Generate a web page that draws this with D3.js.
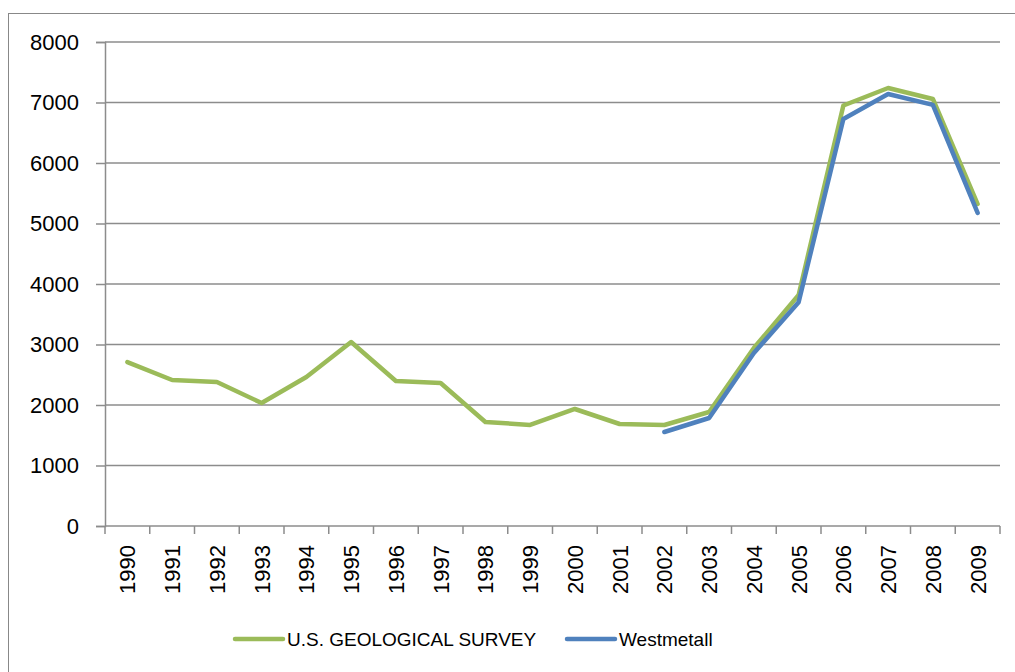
<!doctype html>
<html>
<head>
<meta charset="utf-8">
<script src="https://d3js.org/d3.v7.min.js"></script>
<style>
  body { margin: 0; background: #fff; }
  text { font-family: "Liberation Sans", Arial, sans-serif; fill: #000; }
</style>
</head>
<body>
<script>
// data
var years = ["1990","1991","1992","1993","1994","1995","1996","1997","1998","1999",
             "2000","2001","2002","2003","2004","2005","2006","2007","2008","2009"];
var usgs = [2710,2413,2380,2033,2463,3041,2397,2364,1720,1670,
            1934,1686,1670,1884,2942,3818,6950,7240,7058,5322];
var westmetall = [null,null,null,null,null,null,null,null,null,null,
                  null,null,1554,1785,2860,3700,6727,7140,6960,5174];
var yTicks = [0,1000,2000,3000,4000,5000,6000,7000,8000];
var seriesNames = ["U.S. GEOLOGICAL SURVEY","Westmetall"];
var seriesColors = ["#9BBB59","#4F81BD"];

var width = 1015, height = 672;
var plotL = 105, plotR = 1000, plotT = 42, plotB = 526;

var svg = d3.select("body").append("svg")
  .attr("width", width).attr("height", height);

// chart frame
svg.append("rect")
  .attr("x", 8.5).attr("y", 13.5)
  .attr("width", 1030).attr("height", 700)
  .attr("fill", "none").attr("stroke", "#888").attr("stroke-width", 1);

var x = d3.scaleBand().domain(years).range([plotL, plotR]).padding(0);
var y = d3.scaleLinear().domain([0, 8000]).range([plotB, plotT]);

// gridlines
svg.selectAll(".grid")
  .data(yTicks.slice(1))
  .enter().append("line")
  .attr("class", "grid")
  .attr("x1", plotL).attr("x2", plotR)
  .attr("y1", function(d) { return y(d); })
  .attr("y2", function(d) { return y(d); })
  .attr("stroke", "#8c8c8c").attr("stroke-width", 1.5);

// y axis
var yAxis = svg.append("g")
  .attr("transform", "translate(" + plotL + ",0)")
  .call(d3.axisLeft(y).tickValues(yTicks).tickSize(9).tickPadding(17).tickFormat(d3.format("d")));
yAxis.select(".domain").attr("stroke", "#8c8c8c").attr("stroke-width", 1.5);
yAxis.selectAll(".tick line").attr("stroke", "#8c8c8c").attr("stroke-width", 1.5);
yAxis.selectAll("text").style("font-size", "22px").attr("fill", "#000");

// x axis, ticks between categories
var xg = svg.append("g");
xg.append("line")
  .attr("x1", plotL).attr("x2", plotR)
  .attr("y1", plotB).attr("y2", plotB)
  .attr("stroke", "#8c8c8c").attr("stroke-width", 1.5);
var bounds = years.map(function(d) { return x(d); }).concat([plotR]);
xg.selectAll(".xt")
  .data(bounds)
  .enter().append("line")
  .attr("x1", function(d) { return d; }).attr("x2", function(d) { return d; })
  .attr("y1", plotB).attr("y2", plotB + 8)
  .attr("stroke", "#8c8c8c").attr("stroke-width", 1.5);
xg.selectAll(".xl")
  .data(years)
  .enter().append("text")
  .attr("transform", function(d) {
    return "translate(" + (x(d) + x.bandwidth() / 2 + 8) + "," + (plotB + 19) + ") rotate(-90)";
  })
  .attr("text-anchor", "end")
  .style("font-size", "22px")
  .text(function(d) { return d; });

// lines
var line = d3.line()
  .defined(function(d) { return d.v != null; })
  .x(function(d) { return x(d.k) + x.bandwidth() / 2; })
  .y(function(d) { return y(d.v); });

[usgs, westmetall].forEach(function(s, i) {
  svg.append("path")
    .datum(years.map(function(k, j) { return { k: k, v: s[j] }; }))
    .attr("d", line)
    .attr("fill", "none")
    .attr("stroke", seriesColors[i])
    .attr("stroke-width", 4.5)
    .attr("stroke-linejoin", "round")
    .attr("stroke-linecap", "round");
});

// legend
var legX = [235, 567];
var leg = svg.selectAll(".leg")
  .data(seriesNames)
  .enter().append("g")
  .attr("transform", function(d, i) { return "translate(" + legX[i] + ",639)"; });
leg.append("line")
  .attr("x1", 0).attr("x2", 48).attr("y1", 0).attr("y2", 0)
  .attr("stroke", function(d, i) { return seriesColors[i]; })
  .attr("stroke-width", 4.5).attr("stroke-linecap", "round");
leg.append("text")
  .attr("x", 52).attr("y", 7)
  .style("font-size", "19px")
  .text(function(d) { return d; });
</script>
</body>
</html>
